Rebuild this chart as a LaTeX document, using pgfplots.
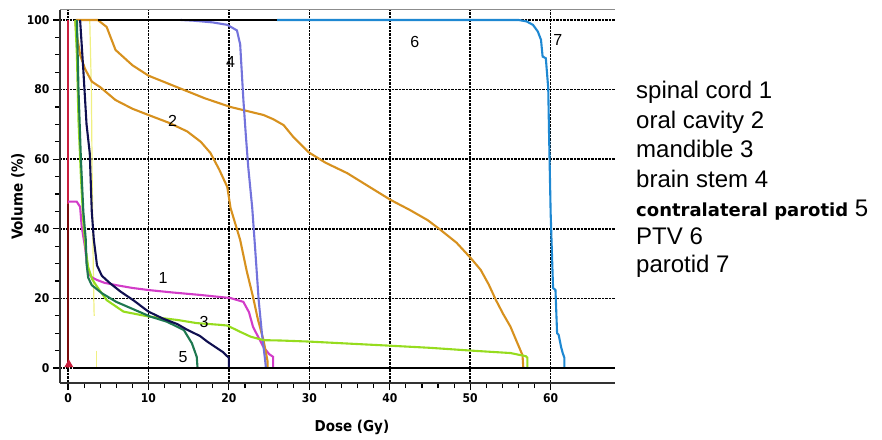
\documentclass[border=0pt]{standalone}
\usepackage{fontspec}
\setmainfont{Liberation Sans}
\newfontfamily\tickfont{DejaVu Sans Condensed}
\newfontfamily\dejavu{DejaVu Sans}
\usepackage{pgfplots}
\pgfplotsset{compat=1.18}

\definecolor{cmag}{RGB}{210,60,200}
\definecolor{corange}{RGB}{215,145,30}
\definecolor{cpurple}{RGB}{115,115,220}
\definecolor{cblue}{RGB}{30,136,210}
\definecolor{clime}{RGB}{150,220,30}
\definecolor{cdgreen}{RGB}{30,120,80}
\definecolor{cnavy}{RGB}{15,15,80}
\definecolor{cyellow}{RGB}{240,240,130}
\definecolor{cred}{RGB}{200,30,60}
\definecolor{cmaroon}{RGB}{120,10,10}

\begin{document}
\begin{tikzpicture}[x=1pt,y=1pt]
\path[use as bounding box] (0,0) rectangle (882,439);
\begin{axis}[
  at={(60pt,56pt)}, anchor=south west,
  scale only axis, width=555pt, height=373pt,
  xmin=-1, xmax=68, ymin=-4.31, ymax=102.87,
  axis x line*=bottom, axis y line*=left,
  axis line style={line width=1.6pt, black!80},
  xtick={0,10,...,60}, minor x tick num=4,
  ytick={0,20,...,100}, minor y tick num=3,
  tick align=outside,
  major tick length=7pt, minor tick length=5pt,
  every tick/.style={black, line width=1.1pt},
  grid=major,
  major grid style={black, densely dotted, line width=1.5pt},
  ticklabel style={font=\tickfont\bfseries\fontsize{12}{13}\selectfont},
  /pgf/number format/assume math mode=true,
  xlabel={Dose (Gy)}, ylabel={Volume (\%)},
  label style={font=\tickfont\bfseries\fontsize{15}{17}\selectfont},
  xlabel style={at={(axis description cs:0.526,-0.118)}, anchor=center},
  ylabel style={at={(axis description cs:-0.0757,0.5)}, anchor=center},
  every axis plot/.append style={line width=2.1pt},
]
% parotid (red), vertical at 0
\addplot[cred] coordinates {(0.05,100) (0.05,47)};
\addplot[cmaroon] coordinates {(0.05,47) (0.05,0)};
\addplot[only marks, mark=triangle*, cred, mark size=3pt] coordinates {(0.1,1)};
% pale yellow
\addplot[cyellow, line width=1.2pt] coordinates {(2.7,100) (2.9,80) (3.0,55) (3.1,35) (3.2,20) (3.25,15)};
\addplot[cyellow, line width=1.2pt] coordinates {(3.5,5) (3.5,0)};
% spinal cord 1
\addplot[cmag] coordinates {(0,47.8) (1.08,47.8) (1.5,46.3) (1.7,40.6) (2.1,34.9) (2.5,27.2) (3.0,26) (3.6,25.3) (4.5,24.5) (6.0,23.8) (8,23) (10,22.4) (13,21.7) (16.4,21) (20.2,20.1) (21.8,19) (22.5,16) (23,11.8) (24.3,6) (25,4) (25.5,3.2) (25.5,0)};
% oral cavity 2 (two orange curves)
\addplot[corange] coordinates {(0.9,100) (1.0,97) (1.5,90) (2.1,86) (2.95,82.3) (4,80.7) (5.9,77) (8,74.5) (10,72.7) (12.5,70.5) (14.8,68) (16.5,65) (17.7,61.8) (18.8,57) (19.8,52) (20.2,46) (21.4,36.8) (22.2,28) (23,20.4) (23.6,14) (24.3,8) (24.8,2) (24.8,0)};
\addplot[corange] coordinates {(1.0,100) (3.7,100) (4.8,98) (5.9,91.4) (8,87) (10,84) (14.3,80) (17,77.5) (20.2,75) (24.3,72.7) (25.5,71.5) (26.8,69.8) (28,66.4) (29.9,62) (32,59) (34.7,56) (37.5,52) (40.1,48.3) (42.5,45.4) (44.7,42.5) (46.3,39.7) (48.3,36) (50.1,31.5) (51.3,28.2) (52.3,24) (53.2,19.5) (54.1,15.5) (55,11.9) (55.8,7.5) (56.5,3.7) (56.6,0)};
% brain stem 4
\addplot[cpurple] coordinates {(14,100) (15.6,99.8) (18,99.3) (19.8,98.6) (21,97) (21.4,93) (21.6,85) (21.8,77) (22.1,67) (22.4,57.8) (22.9,46) (23.3,33) (23.7,19.5) (24.1,10) (24.5,2.3) (24.6,0)};
% PTV 6
\addplot[cblue] coordinates {(26,100) (56,100) (57,99.6) (57.8,98.6) (58.4,96.7) (58.8,94.3) (59,89.5) (59.4,89) (59.7,80.4) (59.8,67.5) (60,44.5) (60.2,30) (60.3,23) (60.6,22.4) (60.8,10) (61,9.5) (61.3,6) (61.5,4.3) (61.7,3) (61.7,0)};
% mandible 3
\addplot[clime] coordinates {(0.9,100) (1.1,90) (1.3,71) (1.6,55) (1.9,42) (2.2,34) (2.5,29) (3.0,25.5) (3.6,23.4) (4.8,19.5) (6.9,16.2) (10,14.8) (13.6,13.8) (16,12.9) (18.9,12.4) (19.8,12.2) (21.4,10.4) (22.7,9) (24.3,8) (26.4,7.9) (29.9,7.6) (35,7) (40.1,6.4) (45,5.8) (50.1,5) (55,4.3) (56.9,3.4) (57.1,3) (57.1,0)};
% contralateral parotid 5
\addplot[cdgreen] coordinates {(1.1,100) (1.3,80) (1.6,60) (1.9,45) (2.2,37) (2.3,30) (2.5,26) (2.95,23.8) (4.2,21.5) (6,19) (8.3,16.7) (10.2,14.8) (12.3,13.3) (14.4,10.9) (15.4,7.1) (16,3.2) (16.1,0)};
% navy
\addplot[cnavy] coordinates {(1.5,100) (1.9,85.6) (2.3,70) (2.7,61.7) (2.95,45) (3.2,37) (3.6,29.5) (4.2,26.5) (5.2,24.4) (6.5,22) (8.1,19.5) (10,16.2) (11.8,14.2) (13.6,12.6) (14.8,11.0) (16.4,9.2) (17.3,7.6) (19.3,4.5) (20,2.9) (20,0)};
% black lines
\addplot[black] coordinates {(3.7,100) (26,100)};
\addplot[black] coordinates {(0.8,0) (68,0)};
\draw[black!45, line width=1pt] (rel axis cs:0,1) -- (rel axis cs:1,1);
% curve numbers
\node[font=\fontsize{16}{16}\selectfont] at (axis cs:11.8,25.9) {1};
\node[font=\fontsize{16}{16}\selectfont] at (axis cs:13.0,71.0) {2};
\node[font=\fontsize{16}{16}\selectfont] at (axis cs:16.9,13.2) {3};
\node[font=\fontsize{16}{16}\selectfont] at (axis cs:20.2,87.9) {4};
\node[font=\fontsize{16}{16}\selectfont] at (axis cs:14.3,3.2) {5};
\node[font=\fontsize{16}{16}\selectfont] at (axis cs:43.1,93.7) {6};
\node[font=\fontsize{16}{16}\selectfont] at (axis cs:60.9,94.3) {7};
\end{axis}
\begin{scope}[every node/.style={anchor=base west, inner sep=0pt, font=\fontsize{24}{26}\selectfont}]
\node at (636,340) {spinal cord 1};
\node at (636,310) {oral cavity 2};
\node at (636,281) {mandible 3};
\node at (636,251) {brain stem 4};
\node at (636,222) {{\dejavu\bfseries\fontsize{18}{20}\selectfont contralateral parotid} 5};
\node at (636,194) {PTV 6};
\node at (636,166) {parotid 7};
\end{scope}
\end{tikzpicture}
\end{document}
